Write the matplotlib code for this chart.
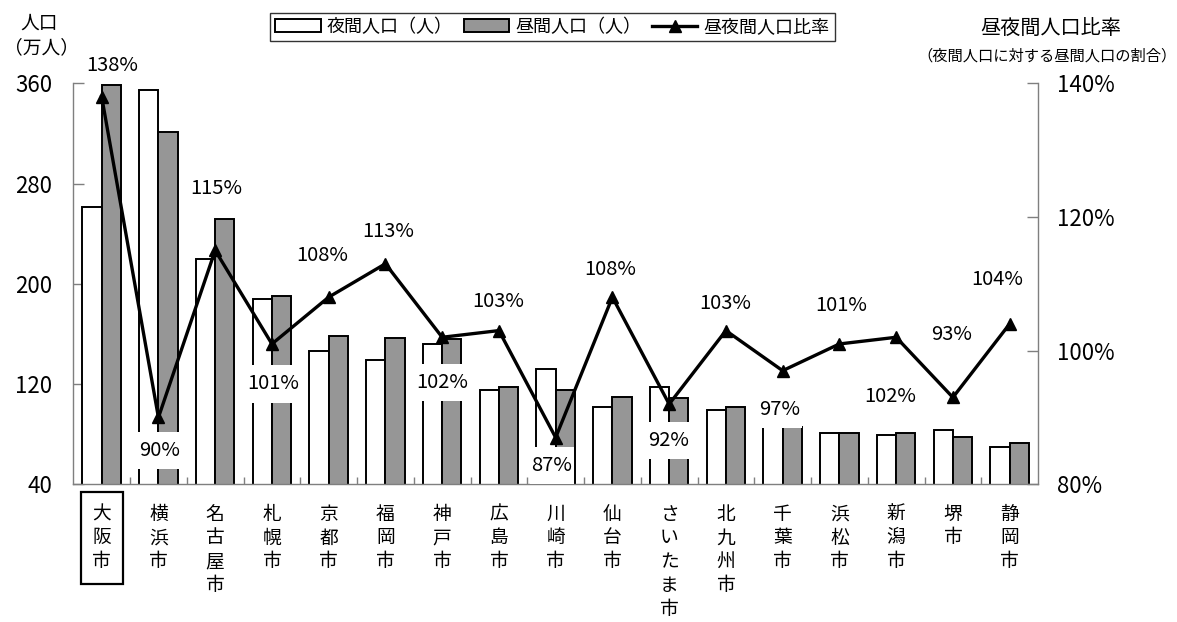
import numpy as np
import matplotlib
matplotlib.use("Agg")
import matplotlib.pyplot as plt
from matplotlib.patches import Patch
from matplotlib.lines import Line2D
from matplotlib.ticker import FuncFormatter, FixedLocator

plt.rcParams['font.family'] = ['Noto Sans CJK JP', 'DejaVu Sans']

# 政令指定都市の夜間人口・昼間人口（万人）と昼夜間人口比率（%）
cities = ["大阪市", "横浜市", "名古屋市", "札幌市", "京都市", "福岡市", "神戸市",
          "広島市", "川崎市", "仙台市", "さいたま市", "北九州市", "千葉市",
          "浜松市", "新潟市", "堺市", "静岡市"]
night_pop = [261, 355, 220, 188, 146, 139, 152, 115, 132, 102, 118, 99, 89, 81, 79, 83, 70]
day_pop = [359, 321, 252, 190, 158, 157, 156, 118, 115, 110, 109, 102, 86, 81, 81, 78, 73]
ratio = [138, 90, 115, 101, 108, 113, 102, 103, 87, 108, 92, 103, 97, 101, 102, 93, 104]

left_ticks = [40, 120, 200, 280, 360]
right_ticks = [80, 100, 120, 140]

# 比率ラベルの位置（マーカーからのずれ, px）
label_shift = [(11, 31), (1.5, -33), (1.5, 62), (1.5, -40), (-6, 42), (2.5, 32),
               (0, -45), (-1, 29), (-4, -28), (-2.5, 28), (-1, -36), (-1, 27),
               (-3, -39), (2, 38), (-6, -59), (-1, 63), (-12, 44)]

W, H, DPI = 1177, 622, 100
fig = plt.figure(figsize=(W / DPI, H / DPI), dpi=DPI)
fig.patch.set_facecolor('white')

x0, x1, ytop, ybot = 73.3, 1038.0, 83.3, 484.3
ax = fig.add_axes([x0 / W, 1 - ybot / H, (x1 - x0) / W, (ybot - ytop) / H])

spine_col = '#7f7f7f'
x = np.arange(len(cities))
bw = 0.34
ax.bar(x - bw / 2, night_pop, bw, color='white', edgecolor='black', linewidth=1.4, zorder=2)
ax.bar(x + bw / 2, day_pop, bw, color='#969696', edgecolor='black', linewidth=1.4, zorder=2)
ax.set_xlim(-0.5, len(cities) - 0.5)
ax.set_ylim(left_ticks[0], left_ticks[-1])
ax.set_yticks(left_ticks)
ax.tick_params(axis='y', direction='in', length=8, width=1, color=spine_col,
               pad=15, labelsize=16)

ax.set_xticks(x)
ax.set_xticklabels(["\n".join(c) for c in cities], fontsize=13.5, linespacing=1.17)
ax.tick_params(axis='x', which='major', length=0, pad=14)
ax.xaxis.set_minor_locator(FixedLocator(np.arange(0.5, len(cities) - 0.5, 1.0)))
ax.tick_params(axis='x', which='minor', direction='in', length=5, width=1, color=spine_col)

for s in ['top', 'right']:
    ax.spines[s].set_visible(False)
for s in ['left', 'bottom']:
    ax.spines[s].set_color(spine_col)
    ax.spines[s].set_linewidth(1.0)

lab0 = ax.get_xticklabels()[0]
lab0.set_bbox(dict(boxstyle='square,pad=0.62', fc='none', ec='black', lw=1.6))

ax2 = ax.twinx()
ax2.set_ylim(right_ticks[0], right_ticks[-1])
ax2.set_yticks(right_ticks)
ax2.yaxis.set_major_formatter(FuncFormatter(lambda v, _: f"{v:.0f}%"))
ax2.tick_params(axis='y', direction='in', length=8, width=1, color=spine_col,
                pad=14, labelsize=16)
for s in ['top', 'left', 'bottom']:
    ax2.spines[s].set_visible(False)
ax2.spines['right'].set_color(spine_col)
ax2.spines['right'].set_linewidth(1.0)

ax2.plot(x, ratio, color='black', lw=2.4, marker='^', ms=8.5, zorder=5)

for xi, r, (dx, dy) in zip(x, ratio, label_shift):
    t = ax2.annotate(f"{r}%", (xi, r), xytext=(dx * 0.72, dy * 0.72),
                     textcoords='offset points', ha='center', va='center',
                     fontsize=14.5, zorder=4,
                     bbox=dict(boxstyle='square,pad=0.08', mutation_aspect=5,
                               fc='white', ec='none'))
    if dy < 0:
        t.set_clip_on(True)

fig.text(39 / W, 1 - 23 / H, "人口", ha='center', va='center', fontsize=13.5)
fig.text(41 / W, 1 - 47.5 / H, "（万人）", ha='center', va='center', fontsize=13.5)
fig.text(1051 / W, 1 - 29 / H, "昼夜間人口比率", ha='center', va='center', fontsize=14.5)
fig.text(1047 / W, 1 - 56 / H, "（夜間人口に対する昼間人口の割合）", ha='center',
         va='center', fontsize=11)

handles = [Patch(facecolor='white', edgecolor='black', linewidth=1.4),
           Patch(facecolor='#969696', edgecolor='black', linewidth=1.4),
           Line2D([], [], color='black', lw=2.4, marker='^', ms=8.5)]
leg = fig.legend(handles, ["夜間人口（人）", "昼間人口（人）", "昼夜間人口比率"],
                 loc='center', bbox_to_anchor=(552.5 / W, 1 - 27 / H), ncol=3,
                 frameon=True, fancybox=False, edgecolor='black', fontsize=13,
                 handlelength=2.5, handleheight=0.7, handletextpad=0.35,
                 columnspacing=0.6, borderpad=0.3, borderaxespad=0)
leg.get_frame().set_linewidth(1.0)

fig.savefig("out.png", dpi=DPI, facecolor='white')
